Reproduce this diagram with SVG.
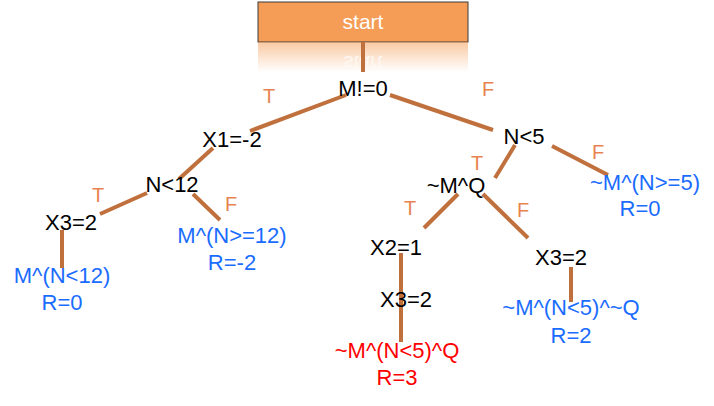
<svg xmlns="http://www.w3.org/2000/svg" width="714" height="406" viewBox="0 0 714 406">
<style>
text{font-family:"Liberation Sans",Arial,sans-serif;font-size:22px;text-anchor:middle}
.n{fill:#000}
.b{fill:#1a6cff}
.r{fill:#ff0000}
.l{fill:#e8834f}
.c line{stroke:#c0703c;stroke-width:4;stroke-linecap:butt}
</style>
<defs>
<linearGradient id="refl" x1="0" y1="0" x2="0" y2="1">
<stop offset="0" stop-color="#f59d56" stop-opacity="0.55"/>
<stop offset="1" stop-color="#f59d56" stop-opacity="0"/>
</linearGradient>
<linearGradient id="reflT" x1="0" y1="0" x2="0" y2="1">
<stop offset="0" stop-color="#fff" stop-opacity="0"/>
<stop offset="1" stop-color="#fff" stop-opacity="0.9"/>
</linearGradient>
</defs>
<rect width="714" height="406" fill="#fff"/>
<g id="start">
<rect x="258" y="2" width="210" height="40" fill="#f59d56" stroke="#3a3a3a" stroke-width="1"/>
<rect x="258" y="42" width="210" height="30" fill="url(#refl)"/>
<text x="363" y="-56" transform="scale(1,-1)" style="fill:url(#reflT);font-size:20px">start</text>
<text x="363" y="29" style="fill:#fff;font-size:21px">start</text>
</g>
<g class="c" id="connectors">
<line x1="363" y1="42" x2="363" y2="72"/>
<line x1="346" y1="95" x2="250" y2="131"/>
<line x1="390" y1="95" x2="493" y2="130"/>
<line x1="213" y1="148" x2="179" y2="179"/>
<line x1="147" y1="193" x2="100" y2="214"/>
<line x1="193" y1="194" x2="220" y2="220"/>
<line x1="62" y1="230" x2="62" y2="268"/>
<line x1="515" y1="145" x2="495" y2="178"/>
<line x1="552" y1="146" x2="608" y2="175"/>
<line x1="458" y1="194" x2="424" y2="228"/>
<line x1="483" y1="194" x2="528" y2="238"/>
<line x1="401" y1="253" x2="401" y2="342"/>
<line x1="571" y1="267" x2="571" y2="302"/>
</g>
<g id="labels">
<text class="l" x="269" y="103" style="font-size:20px">T</text>
<text class="l" x="488" y="96" style="font-size:20px">F</text>
<text class="l" x="98" y="202" style="font-size:20px">T</text>
<text class="l" x="231" y="211" style="font-size:20px">F</text>
<text class="l" x="477" y="170" style="font-size:20px">T</text>
<text class="l" x="598" y="159" style="font-size:20px">F</text>
<text class="l" x="410" y="215" style="font-size:20px">T</text>
<text class="l" x="523" y="217" style="font-size:20px">F</text>
</g>
<g id="n_root"><text class="n" x="363" y="96">M!=0</text></g>
<g id="n_x1"><text class="n" x="232" y="147">X1=-2</text></g>
<g id="n_n12"><text class="n" x="172" y="192">N&lt;12</text></g>
<g id="n_x3a"><text class="n" x="71" y="230">X3=2</text></g>
<g id="leaf1"><text class="b" x="62" y="283">M^(N&lt;12)</text><text class="b" x="62" y="310">R=0</text></g>
<g id="leaf2"><text class="b" x="232" y="243">M^(N&gt;=12)</text><text class="b" x="232" y="270">R=-2</text></g>
<g id="n_n5"><text class="n" x="524" y="144">N&lt;5</text></g>
<g id="leaf3"><text class="b" x="645" y="190">~M^(N&gt;=5)</text><text class="b" x="640" y="216">R=0</text></g>
<g id="n_mq"><text class="n" x="456" y="193">~M^Q</text></g>
<g id="n_x2"><text class="n" x="396" y="255">X2=1</text></g>
<g id="n_x3b"><text class="n" x="406" y="307">X3=2</text></g>
<g id="leaf4"><text class="r" x="397" y="358">~M^(N&lt;5)^Q</text><text class="r" x="397" y="385">R=3</text></g>
<g id="n_x3c"><text class="n" x="561" y="265">X3=2</text></g>
<g id="leaf5"><text class="b" x="571" y="315">~M^(N&lt;5)^~Q</text><text class="b" x="571" y="343">R=2</text></g>
</svg>
